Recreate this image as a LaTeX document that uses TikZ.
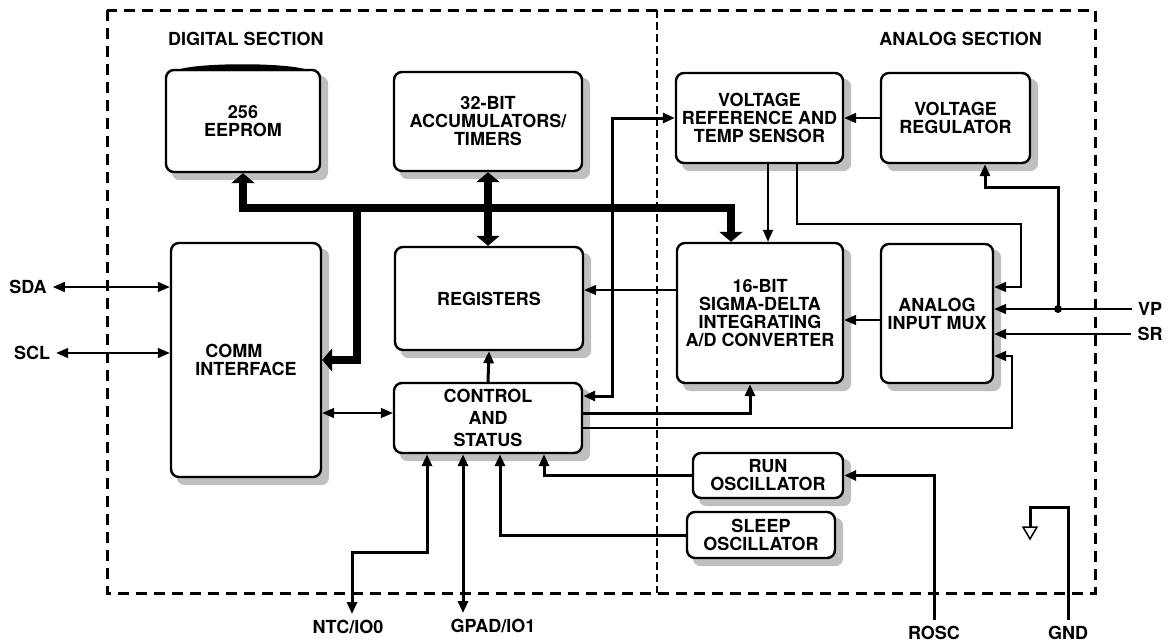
\documentclass[tikz,border=0pt]{standalone}
\usepackage{fontspec}
\setmainfont{TeX Gyre Heros}
\usetikzlibrary{arrows.meta,backgrounds}

\begin{document}
\begin{tikzpicture}[x=1pt,y=-1pt,
    box/.style={draw, line width=2.4pt, rounded corners=8pt, fill=white, align=center, inner sep=0pt,
        font=\bfseries\fontsize{18}{18}\selectfont},
    pin/.style={inner sep=6pt, font=\bfseries\fontsize{18}{18}\selectfont},
    bus/.style={line width=8pt},
    wire/.style={line width=1.6pt},
    lead/.style={line width=3pt},
    bustip/.tip={Triangle[length=10pt,width=23pt]},
    >={Triangle[length=12pt,width=10pt]}]
    \useasboundingbox (0,0) rectangle (1171,643);
    % frame and the two sections
    \draw[line width=3pt, dash pattern=on 11pt off 7pt] (107,10) rectangle (1095,593);
    \draw[line width=1.2pt, dash pattern=on 8pt off 4pt] (657,10) -- (657,593);
    \node[pin, inner sep=0pt, anchor=base west] (dig) at (168,45) {DIGITAL SECTION};
    \node[pin, inner sep=0pt, anchor=base east] (ana) at (1042,45) {ANALOG SECTION};
    % blocks
    \node[box, minimum width=154pt, minimum height=102pt] (eeprom) at (243,121) {256\\EEPROM};
    \fill (175,71) .. controls (190,62) and (295,62) .. (310,71) -- cycle;
    \node[box, minimum width=188pt, minimum height=99pt] (accum) at (488,121.5) {32-BIT\\ACCUMULATORS/\\TIMERS};
    \node[box, minimum width=167pt, minimum height=90pt] (vref) at (759.5,118) {VOLTAGE\\REFERENCE AND\\TEMP SENSOR};
    \node[box, minimum width=149pt, minimum height=90pt] (vreg) at (955.5,118) {VOLTAGE\\REGULATOR};
    \node[box, align=left, minimum width=150pt, minimum height=234pt] (comm) at (246,360) {\hspace*{10pt}COMM\\INTERFACE};
    \node[box, minimum width=188pt, minimum height=103pt] (regs) at (489,298.5) {REGISTERS};
    \node[box, minimum width=166pt, minimum height=140pt] (adc) at (760,313) {16-BIT\\SIGMA-DELTA\\INTEGRATING\\A/D CONVERTER};
    \node[box, minimum width=112pt, minimum height=139pt] (mux) at (937,313.5) {ANALOG\\INPUT MUX};
    \node[box, minimum width=188pt, minimum height=70pt, font=\bfseries\fontsize{18}{22}\selectfont] (ctrl) at (488,418) {CONTROL\\AND\\STATUS};
    \node[box, minimum width=150pt, minimum height=45pt] (runosc) at (768,475.5) {RUN\\OSCILLATOR};
    \node[box, minimum width=148pt, minimum height=46pt] (sleeposc) at (761,535) {SLEEP\\OSCILLATOR};
    % shadows
    \begin{pgfonlayer}{background}
    \foreach \blk in {eeprom,accum,vref,vreg,comm,regs,adc,mux,ctrl,runosc,sleeposc}
        \fill[black!25, rounded corners=8pt] ([shift={(7pt,-7pt)}]\blk.north west) rectangle ([shift={(7pt,-7pt)}]\blk.south east);
    \end{pgfonlayer}
    % pins
    \node[pin] (sda) at (28,287) {SDA};
    \node[pin] (scl) at (32,353) {SCL};
    \node[pin] (vp) at (1150,309) {VP};
    \node[pin] (sr) at (1150,334) {SR};
    \node[pin] (ntc) at (348,627) {NTC/IO0};
    \node[pin] (gpad) at (493,626) {GPAD/IO1};
    \node[pin] (rosc) at (934,633) {ROSC};
    \node[pin] (gnd) at (1068,633) {GND};
    % data bus
    \coordinate (busr) at (731,208);
    \coordinate (bustap) at (357,208);
    \draw[bus, bustip-bustip] (eeprom.south) |- (busr) -- (busr |- adc.north);
    \draw[bus, -bustip] (bustap) |- (comm.east);
    \draw[bus, bustip-bustip] (accum.south) -- (accum.south |- regs.north);
    % analog side
    \draw[wire,->] (vreg.west) -- (vref.east);
    \draw[wire,->] (768,0 |- vref.south) -- (768,0 |- adc.north);
    \coordinate (muxtop) at (1021,224);
    \draw[wire,->] (797,0 |- vref.south) |- (muxtop) |- (mux.east |- 0,287);
    \draw[wire,->] (mux.west |- 0,320) -- (adc.east |- 0,320);
    \draw[wire,->] (adc.west |- 0,290) -- (regs.east |- 0,290);
    \draw[wire,->] (vp.west) -- (mux.east |- vp.west);
    \draw[wire,->] (sr.west) -- (mux.east |- sr.west);
    \coordinate (vpdot) at (1058,309);
    \fill (vpdot) circle (4pt);
    \draw[lead,->] (vpdot) |- (985,187) -- (985,0 |- vreg.south);
    % control and status
    \coordinate (vrefin) at (612,118);
    \draw[lead,<->] (ctrl.east |- 0,396) -| (vrefin) -- (vref.west);
    \draw[lead,->] (ctrl.north) -- (regs.south);
    \draw[wire,<->] (comm.east |- 0,413) -- (ctrl.west |- 0,413);
    \draw[lead,->] (ctrl.east |- 0,413) -| (750,0 |- adc.south);
    \coordinate (muxlow) at (1012,356);
    \draw[wire,->] (ctrl.east |- 0,428) -| (muxlow) -- (mux.east |- muxlow);
    \draw[lead,->] (runosc.west) -| (544,0 |- ctrl.south);
    \draw[lead,->] (sleeposc.west) -| (500,0 |- ctrl.south);
    \draw[lead,->] (rosc.north) |- (runosc.east);
    % outside pins
    \draw[wire,<->] (sda.east) -- (comm.west |- sda.east);
    \draw[wire,<->] (scl.east) -- (comm.west |- scl.east);
    \coordinate (ntcbend) at (352,552);
    \draw[lead,<->] (427,0 |- ctrl.south) |- (ntcbend) -- (ntcbend |- ntc.north);
    \draw[lead,<->] (463,0 |- ctrl.south) -- (463,0 |- gpad.north);
    \coordinate (gndsym) at (1030,527);
    \draw[lead] (gnd.north) |- (1030,507) -- (gndsym);
    \draw[line width=1.5pt, fill=white] (gndsym) ++(-7,0) -- ++(14,0) -- (1030,539) -- cycle;
\end{tikzpicture}
\end{document}
